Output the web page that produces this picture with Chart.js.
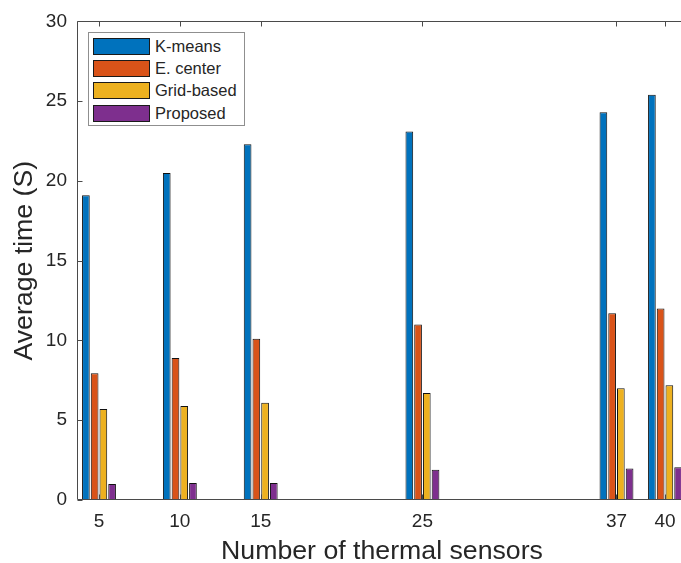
<!DOCTYPE html>
<html>
<head>
<meta charset="utf-8">
<script src="https://cdn.jsdelivr.net/npm/chart.js@4.4.1/dist/chart.umd.min.js"></script>
<style>
html,body{margin:0;padding:0;background:#fff;overflow:hidden;}
#wrap{position:relative;width:690px;height:563px;}
#legend{position:absolute;left:88px;top:32px;width:157px;height:94px;border:1px solid #8f8f8f;background:#fff;box-sizing:border-box;font-family:"Liberation Sans",Arial,Helvetica,sans-serif;font-size:16.5px;color:#262626;}
.row{position:absolute;left:4px;height:17px;}
.sw{position:absolute;left:0;top:0;width:57px;height:17px;border:1px solid #1a1a1a;box-sizing:border-box;}
.lb{position:absolute;left:62px;top:-1px;line-height:19px;white-space:nowrap;}
</style>
</head>
<body>
<div id="wrap">
<canvas id="c" width="690" height="563"></canvas>
<div id="legend"></div>
</div>
<script>
// ---- data ----
const sensors = [5, 10, 15, 25, 37, 40];
const kmeans = [19.1, 20.5, 22.3, 23.1, 24.3, 25.4];
const eCenter = [7.95, 8.9, 10.1, 11.0, 11.7, 12.0];
const gridBased = [5.7, 5.9, 6.1, 6.7, 7.0, 7.2];
const proposed = [1.0, 1.07, 1.07, 1.9, 1.97, 2.05];
const seriesNames = ['K-means', 'E. center', 'Grid-based', 'Proposed'];
const seriesColors = ['#0072BD', '#D95319', '#EDB120', '#7E2F8E'];
const xTicks = [5, 10, 15, 25, 37, 40];
const yTicks = [0, 5, 10, 15, 20, 25, 30];
const xTitle = 'Number of thermal sensors';
const yTitle = 'Average time (S)';

const FONT = '"Liberation Sans", Arial, Helvetica, sans-serif';
const INK = '#262626';

const allSeries = [kmeans, eCenter, gridBased, proposed];
const datasets = allSeries.map((vals, k) => ({
  label: seriesNames[k],
  data: sensors.map((s, i) => ({x: s, y: vals[i]})),
  backgroundColor: seriesColors[k],
  borderColor: '#111111',
  borderWidth: 1,
  borderSkipped: false,
  categoryPercentage: 0.72,
  barPercentage: 0.88
}));

const axesBox = {
  id: 'axesBox',
  afterDatasetsDraw(chart) {
    const {ctx, chartArea: a, scales: {x, y}} = chart;
    ctx.save();
    ctx.strokeStyle = '#4a4a4a';
    ctx.lineWidth = 1;
    const L = Math.round(a.left) + 0.5, R = Math.round(a.right) - 0.5;
    const T = Math.round(a.top) + 0.5, B = Math.round(a.bottom) - 0.5;
    ctx.beginPath();
    ctx.rect(L, T, R - L, B - T);
    const tl = 5;
    x.ticks.forEach(t => {
      const px = Math.round(x.getPixelForValue(t.value)) + 0.5;
      ctx.moveTo(px, B); ctx.lineTo(px, B - tl);
      ctx.moveTo(px, T); ctx.lineTo(px, T + tl);
    });
    y.ticks.forEach(t => {
      const py = Math.round(y.getPixelForValue(t.value)) + 0.5;
      ctx.moveTo(L, py); ctx.lineTo(L + tl, py);
      ctx.moveTo(R, py); ctx.lineTo(R - tl, py);
    });
    ctx.stroke();
    ctx.restore();
  }
};

new Chart(document.getElementById('c'), {
  type: 'bar',
  data: {datasets},
  plugins: [axesBox],
  options: {
    responsive: false,
    animation: false,
    layout: {padding: {left: 0, top: 20, right: 3, bottom: 0}},
    plugins: {legend: {display: false}, tooltip: {enabled: false}},
    scales: {
      x: {
        type: 'linear',
        offset: false,
        min: 3.64,
        max: 41.36,
        grid: {display: false, drawTicks: false},
        border: {display: false},
        afterBuildTicks: s => { s.ticks = xTicks.map(v => ({value: v})); },
        afterFit: s => { s.height = 63; },
        ticks: {
          color: INK, padding: 10, maxRotation: 0, autoSkip: false,
          font: {family: FONT, size: 19},
          callback: v => String(v)
        },
        title: {display: true, text: xTitle, color: INK,
          font: {family: FONT, size: 26.7, lineHeight: 0.85}, padding: {top: 0, bottom: 0}}
      },
      y: {
        min: 0, max: 30,
        grid: {display: false, drawTicks: false},
        border: {display: false},
        afterBuildTicks: s => { s.ticks = yTicks.map(v => ({value: v})); },
        afterFit: s => { s.width = 77; },
        ticks: {
          color: INK, padding: 10,
          font: {family: FONT, size: 19},
          callback: v => String(v)
        },
        title: {display: true, text: yTitle, color: INK,
          font: {family: FONT, size: 26.7, lineHeight: 1}, padding: {top: 11, bottom: 0}}
      }
    }
  }
});

// legend (HTML text) built from the series arrays
const lg = document.getElementById('legend');
seriesNames.forEach((name, k) => {
  const row = document.createElement('div');
  row.className = 'row';
  row.style.top = (5 + k * 22.2) + 'px';
  const sw = document.createElement('div');
  sw.className = 'sw';
  sw.style.background = seriesColors[k];
  const lb = document.createElement('div');
  lb.className = 'lb';
  lb.textContent = name;
  row.appendChild(sw); row.appendChild(lb);
  lg.appendChild(row);
});
</script>
</body>
</html>
